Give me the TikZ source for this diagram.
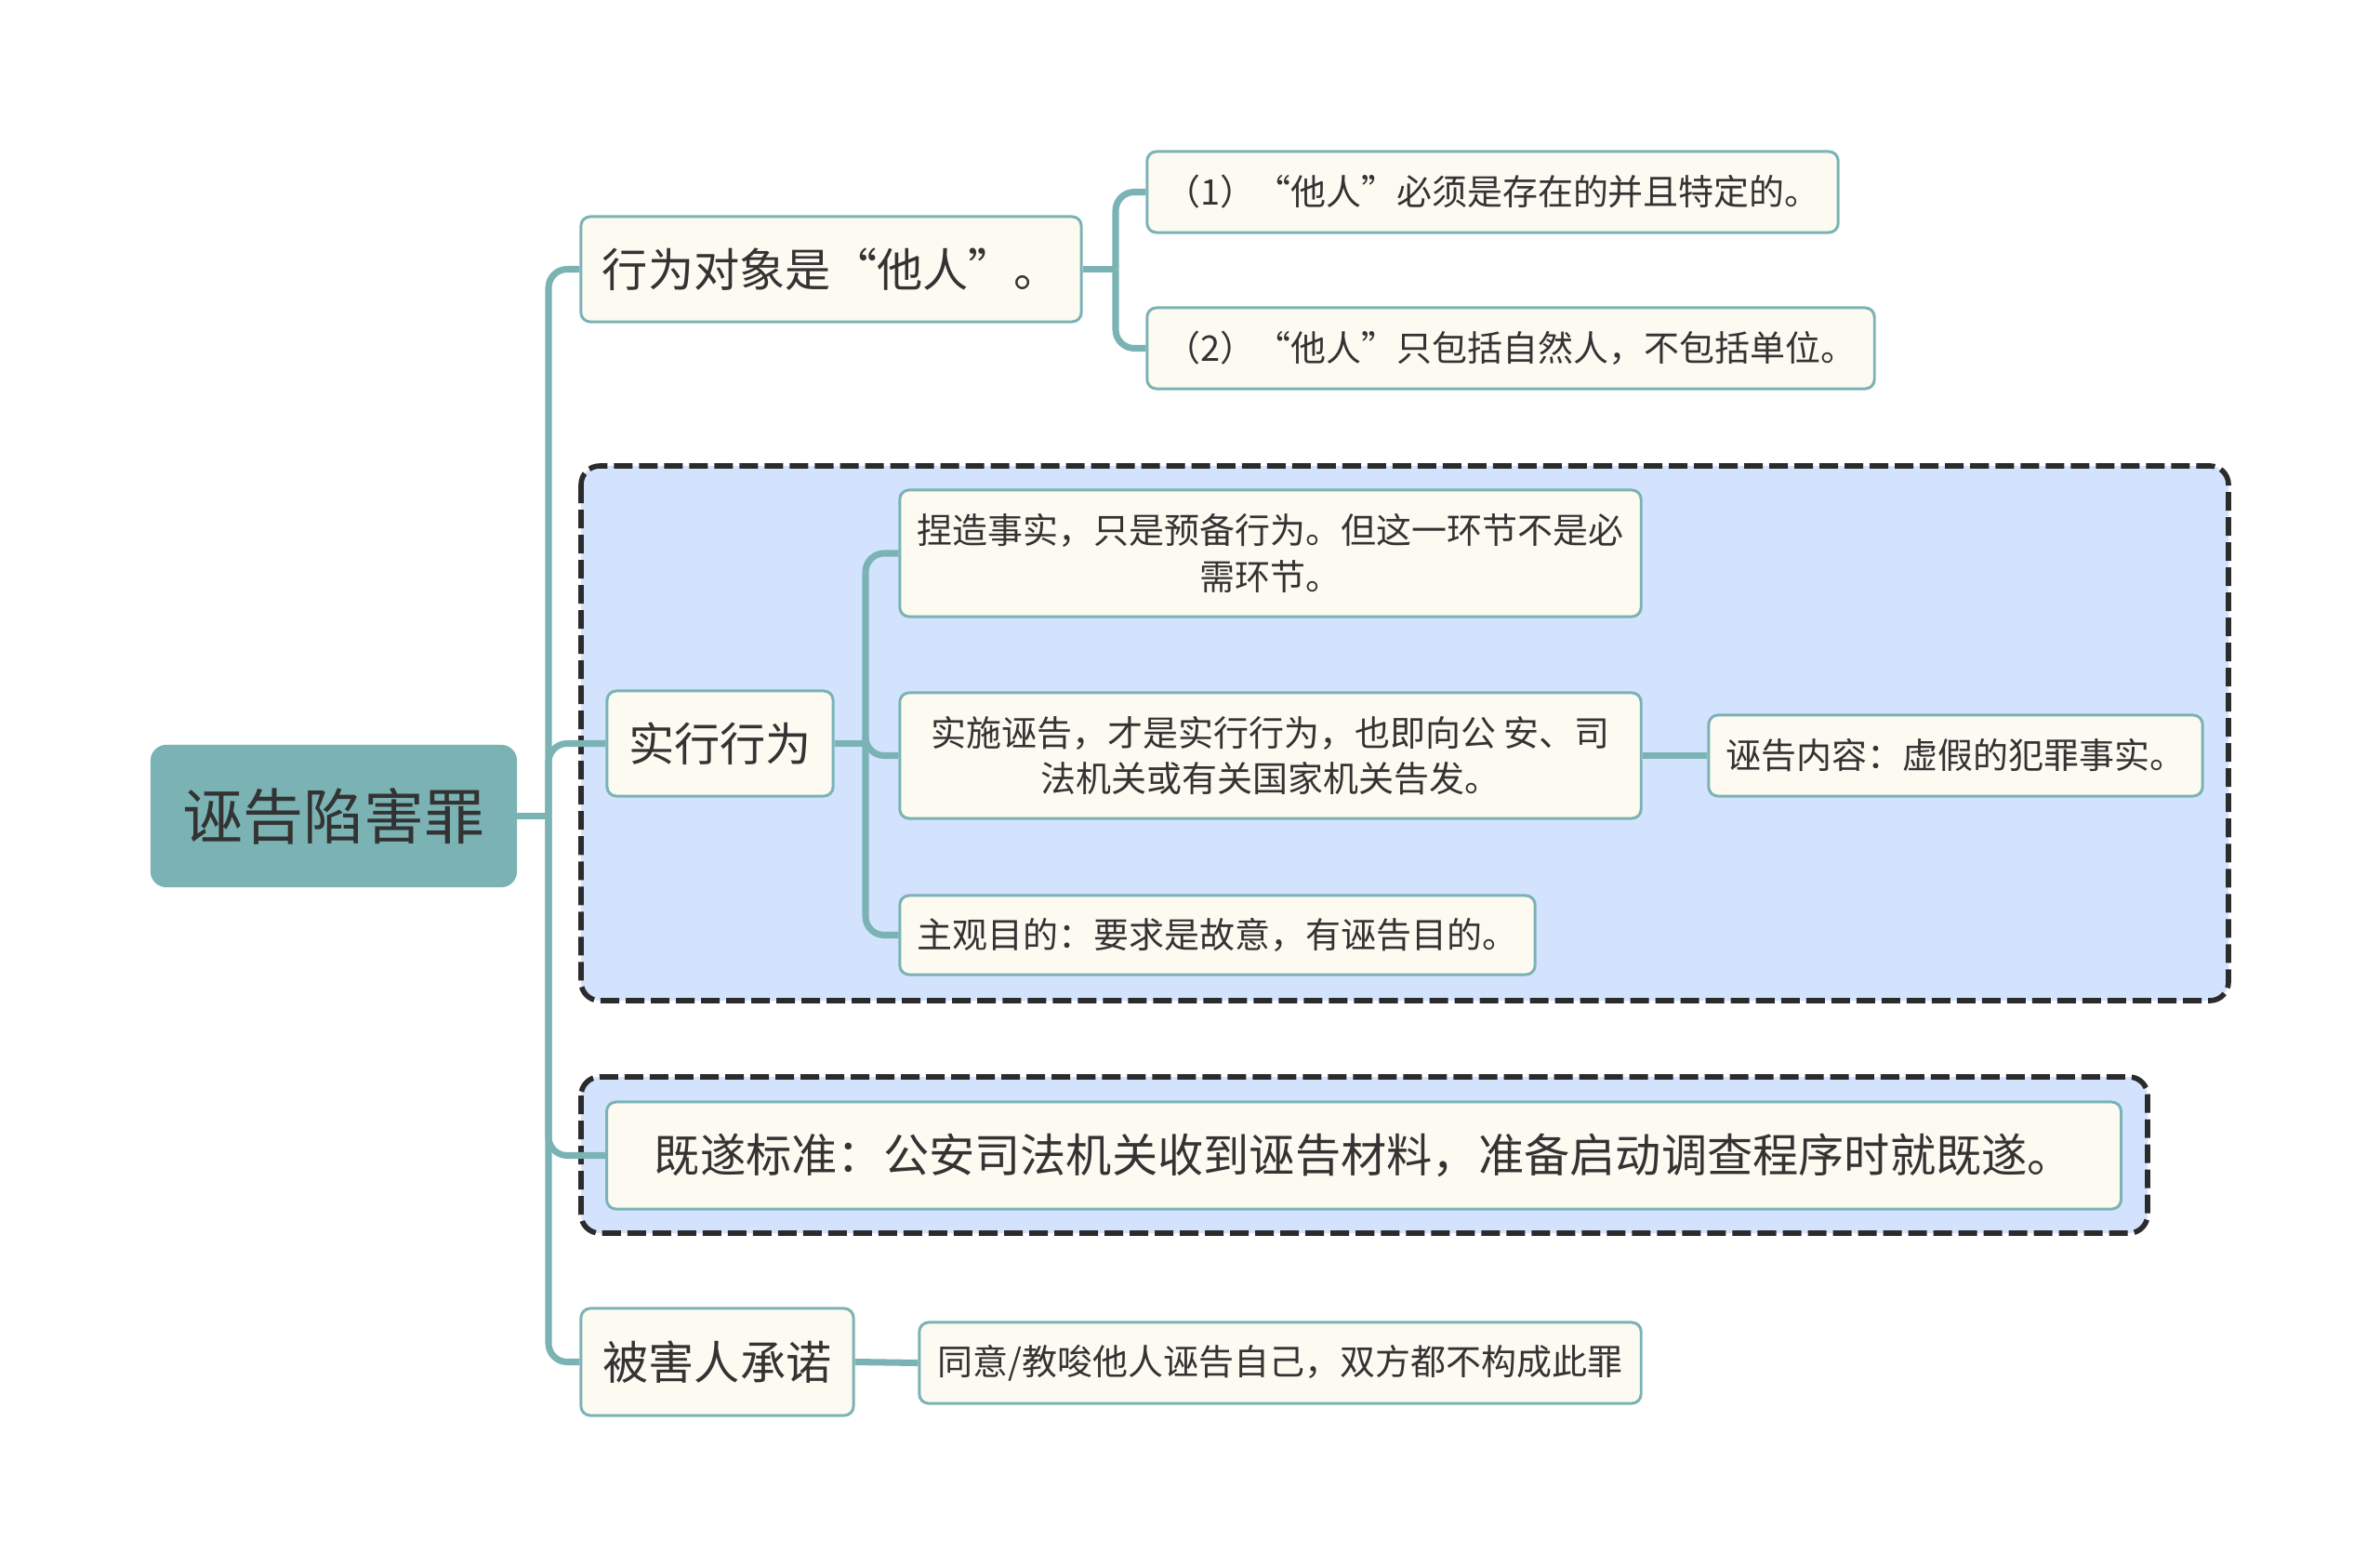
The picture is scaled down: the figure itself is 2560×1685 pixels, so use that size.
\documentclass[tikz,border=0pt]{standalone}
\usepackage{fontspec}
\newfontfamily\cjk{Noto Sans CJK SC}
\definecolor{mapteal}{HTML}{7BB3B5}
\definecolor{mapcream}{HTML}{FCFAF1}
\definecolor{mapblue}{HTML}{D3E3FD}
\definecolor{mapink}{HTML}{333333}
\definecolor{mapdash}{HTML}{2B2B2B}

\tikzset{
    rootbox/.style={draw=mapteal, fill=mapteal, rounded corners=0.16cm, line width=0.6pt,
        text=mapink, font=\cjk\fontsize{18.5}{22}\selectfont, inner sep=0pt},
    branchbox/.style={draw=mapteal, fill=mapcream, rounded corners=0.1cm, line width=0.85pt,
        text=mapink, font=\cjk\fontsize{14}{17}\selectfont, inner sep=0pt},
    leafbox/.style={draw=mapteal, fill=mapcream, rounded corners=0.1cm, line width=0.85pt,
        text=mapink, font=\cjk\fontsize{10.8}{14}\selectfont, inner sep=0pt, align=center},
    groupbox/.style={draw=mapdash, fill=mapblue, rounded corners=0.2cm, line width=1.6pt,
        dash pattern=on 0.2cm off 0.07cm},
    link/.style={draw=mapteal, line width=2pt},
    elbowlink/.style={link, rounded corners=0.2cm},
}

\begin{document}
\begin{tikzpicture}[x=0.01cm, y=-0.01cm]
    \useasboundingbox (0, 0) rectangle (2560, 1685);
    % Groups:
    \draw[groupbox] (625, 501) rectangle (2397, 1076);
    \draw[groupbox] (625, 1158) rectangle (2310, 1326);

    % Nodes:
    \node[rootbox, minimum width=3.92cm, minimum height=1.51cm] (root) at (359, 877.5) {诬告陷害罪};
    \node[branchbox, minimum width=5.38cm, minimum height=1.13cm] (obj) at (894, 289.5) {行为对象是“他人”。};
    \node[leafbox, minimum width=7.43cm, minimum height=0.87cm] (obj1) at (1605.5, 206.5) {（1）“他人”必须是存在的并且特定的。};
    \node[leafbox, minimum width=7.82cm, minimum height=0.87cm] (obj2) at (1625, 374.5) {（2）“他人”只包括自然人，不包括单位。};
    \node[branchbox, minimum width=2.43cm, minimum height=1.13cm] (act) at (774.5, 799.5) {实行行为};
    \node[leafbox, minimum width=7.97cm, minimum height=1.36cm] (act1) at (1366.5, 595) {捏造事实，只是预备行为。但这一环节不是必\\需环节。};
    \node[leafbox, minimum width=7.97cm, minimum height=1.35cm] (act2) at (1366.5, 812.5) {实施诬告，才是实行行为，也即向公 安、司\\法机关或有关国家机关告发。};
    \node[leafbox, minimum width=6.83cm, minimum height=0.85cm] (act3) at (1309.5, 1005.5) {主观目的：要求是故意，有诬告目的。};
    \node[leafbox, minimum width=5.31cm, minimum height=0.87cm] (act4) at (2103.5, 812.5) {诬告内容：虚假的犯罪事实。};
    \node[branchbox, minimum width=16.28cm, minimum height=1.15cm] (done) at (1467, 1242.5) {既遂标准：公安司法机关收到诬告材料，准备启动调查程序时就既遂。};
    \node[branchbox, minimum width=2.93cm, minimum height=1.15cm] (cons) at (771.5, 1464.5) {被害人承诺};
    \node[leafbox, minimum width=7.76cm, minimum height=0.87cm] (cons1) at (1377, 1465.5) {同意/教唆他人诬告自己，双方都不构成此罪};

    % Connectors:
    \coordinate (j0) at (590, 877.5);
    \coordinate (j1) at (1200, 289.5);
    \coordinate (j2) at (931, 799.5);
    \draw[link] (root.east) -- (j0);
    \foreach \n in {obj, act, done, cons}
        \draw[elbowlink] (j0) |- (\n.west);
    \draw[link] (obj.east) -- (j1);
    \foreach \n in {obj1, obj2}
        \draw[elbowlink] (j1) |- (\n.west);
    \draw[link] (act.east) -- (j2);
    \foreach \n in {act1, act2, act3}
        \draw[elbowlink] (j2) |- (\n.west);
    \draw[link] (act2.east) -- (act4.west);
    \draw[link] (cons.east) -- (cons1.west);
\end{tikzpicture}
\end{document}
